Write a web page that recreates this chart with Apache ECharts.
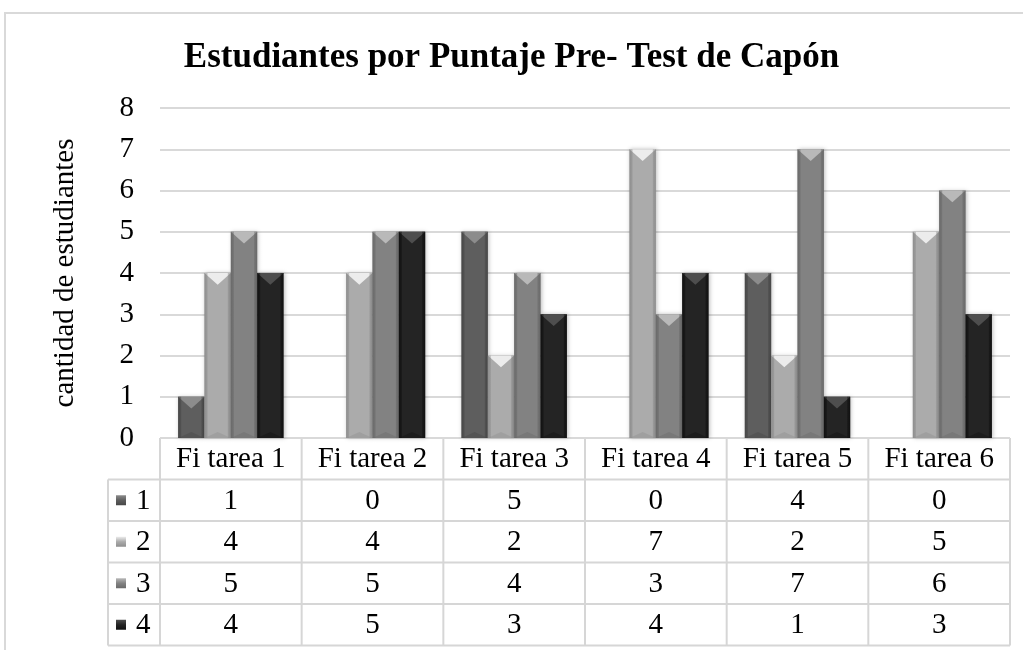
<!DOCTYPE html>
<html>
<head>
<meta charset="utf-8">
<script src="https://cdn.jsdelivr.net/npm/echarts@6/dist/echarts.min.js"></script>
<style>
  html, body { margin: 0; padding: 0; background: #fff; }
  #main { width: 1023px; height: 650px; }
</style>
</head>
<body>
<div id="main"></div>
<script>
// datos del gráfico
var categorias = ['Fi tarea 1', 'Fi tarea 2', 'Fi tarea 3', 'Fi tarea 4', 'Fi tarea 5', 'Fi tarea 6'];
var nombres = ['1', '2', '3', '4'];
var serie1 = [1, 0, 5, 0, 4, 0];
var serie2 = [4, 4, 2, 7, 2, 5];
var serie3 = [5, 5, 4, 3, 7, 6];
var serie4 = [4, 5, 3, 4, 1, 3];
var series = [serie1, serie2, serie3, serie4];
var ticksY = [0, 1, 2, 3, 4, 5, 6, 7, 8];

// colores (cuerpo, brillo superior, borde)
var colores = [
  { body: '#5e5e5e', top: '#8c8c8c', edge: '#474747' },
  { body: '#ababab', top: '#ececec', edge: '#8e8e8e' },
  { body: '#828282', top: '#b9b9b9', edge: '#6a6a6a' },
  { body: '#242424', top: '#4e4e4e', edge: '#111111' }
];

var fuente = '"Liberation Serif", "Times New Roman", serif';
var G = { left: 160, right: 13, top: 108, bottom: 212 };
var W = 1023, H = 650;
var rowH = 41.5;
var fs = 29;

var myChart = echarts.init(document.getElementById('main'));

function barRender(si) {
  return function (params, api) {
    var ci = api.value(0);
    var v = api.value(1);
    if (!v) return;
    var cw = api.size([1, 0])[0];
    var bw = cw * 0.186;
    var c = api.coord([ci, v]);
    var base = api.coord([ci, 0]);
    var x = c[0] - 2 * bw + si * bw;
    var yTop = c[1], yB = base[1];
    var col = colores[si];
    var d = bw * 0.45;
    var e = 3;
    return {
      type: 'group',
      children: [
        { type: 'rect', shape: { x: x, y: yTop, width: bw, height: yB - yTop },
          style: { fill: new echarts.graphic.LinearGradient(0, 0, 1, 0, [
            { offset: 0, color: col.edge }, { offset: 0.12, color: col.body },
            { offset: 0.88, color: col.body }, { offset: 1, color: col.edge }]),
            shadowBlur: 4, shadowColor: 'rgba(0,0,0,0.25)', shadowOffsetX: 1 } },
        { type: 'polygon', shape: { points: [[x, yTop], [x + bw, yTop], [x + bw / 2, yTop + d]] },
          style: { fill: col.top } },
        { type: 'polygon', shape: { points: [[x, yB], [x + bw, yB], [x + bw / 2, yB - Math.min(d * 0.5, yB - yTop)]] },
          style: { fill: col.edge, opacity: 0.4 } },
        { type: 'rect', shape: { x: x, y: yTop, width: e, height: yB - yTop },
          style: { fill: col.edge, opacity: 0.5 } },
        { type: 'rect', shape: { x: x + bw - e, y: yTop, width: e, height: yB - yTop },
          style: { fill: col.edge, opacity: 0.5 } }
      ]
    };
  };
}

var seriesOpt = series.map(function (arr, si) {
  return {
    name: nombres[si],
    type: 'custom',
    renderItem: barRender(si),
    encode: { x: 0, y: 1 },
    data: arr.map(function (v, i) { return [i, v]; }),
    z: 3
  };
});

// tabla de datos debajo del gráfico
var graphics = [];
var x0 = G.left, x1 = W - G.right, yAxis0 = H - G.bottom;
var cw = (x1 - x0) / categorias.length;
var lc = '#d6d6d6';
var leftX = 108;
// borde exterior
graphics.push({ type: 'polyline', shape: { points: [[5, H], [5, 13], [W, 13]] }, style: { stroke: '#d9d9d9', lineWidth: 2, fill: null } });
// lineas horizontales
for (var r = 0; r <= 5; r++) {
  var yy = yAxis0 + r * rowH;
  graphics.push({ type: 'line', shape: { x1: r === 0 ? x0 : leftX, y1: yy, x2: x1, y2: yy }, style: { stroke: lc, lineWidth: 2 } });
}
// lineas verticales
for (var k = 0; k <= categorias.length; k++) {
  var xx = x0 + k * cw;
  graphics.push({ type: 'line', shape: { x1: xx, y1: yAxis0, x2: xx, y2: yAxis0 + 5 * rowH }, style: { stroke: lc, lineWidth: 2 } });
}
graphics.push({ type: 'line', shape: { x1: leftX, y1: yAxis0 + rowH, x2: leftX, y2: yAxis0 + 5 * rowH }, style: { stroke: lc, lineWidth: 2 } });
// encabezados
categorias.forEach(function (c, i) {
  graphics.push({ type: 'text', x: x0 + (i + 0.5) * cw, y: yAxis0 + rowH / 2 + 1,
    style: { text: c, font: fs + 'px ' + fuente, fill: '#000', align: 'center', verticalAlign: 'middle' } });
});
// filas
series.forEach(function (arr, si) {
  var yc = yAxis0 + (si + 1.5) * rowH;
  graphics.push({ type: 'rect', shape: { x: 116, y: yc - 5, width: 10, height: 10 },
    style: { fill: new echarts.graphic.LinearGradient(0, 0, 0, 1, [
      { offset: 0, color: colores[si].top }, { offset: 0.5, color: colores[si].body }, { offset: 1, color: colores[si].edge }]) } });
  graphics.push({ type: 'text', x: 136, y: yc + 1,
    style: { text: nombres[si], font: fs + 'px ' + fuente, fill: '#000', align: 'left', verticalAlign: 'middle' } });
  arr.forEach(function (v, i) {
    graphics.push({ type: 'text', x: x0 + (i + 0.5) * cw, y: yc + 1,
      style: { text: String(v), font: fs + 'px ' + fuente, fill: '#000', align: 'center', verticalAlign: 'middle' } });
  });
});

var option = {
  backgroundColor: '#fff',
  animation: false,
  title: {
    text: 'Estudiantes por Puntaje Pre- Test de Capón',
    left: 'center',
    top: 35,
    textStyle: { fontFamily: fuente, fontSize: 35, fontWeight: 'bold', color: '#000' }
  },
  grid: G,
  xAxis: {
    type: 'category',
    data: categorias,
    axisLine: { show: false },
    axisTick: { show: false },
    axisLabel: { show: false },
    splitLine: { show: false }
  },
  yAxis: {
    type: 'value',
    min: ticksY[0],
    max: ticksY[ticksY.length - 1],
    interval: 1,
    name: 'cantidad de estudiantes',
    nameLocation: 'middle',
    nameGap: 80,
    nameTextStyle: { fontFamily: fuente, fontSize: 29, color: '#000' },
    axisLine: { show: false },
    axisTick: { show: false },
    axisLabel: { fontFamily: fuente, fontSize: fs, color: '#000', margin: 26 },
    splitLine: { lineStyle: { color: '#d9d9d9', width: 2 } }
  },
  graphic: graphics,
  series: seriesOpt
};

myChart.setOption(option);
</script>
</body>
</html>
